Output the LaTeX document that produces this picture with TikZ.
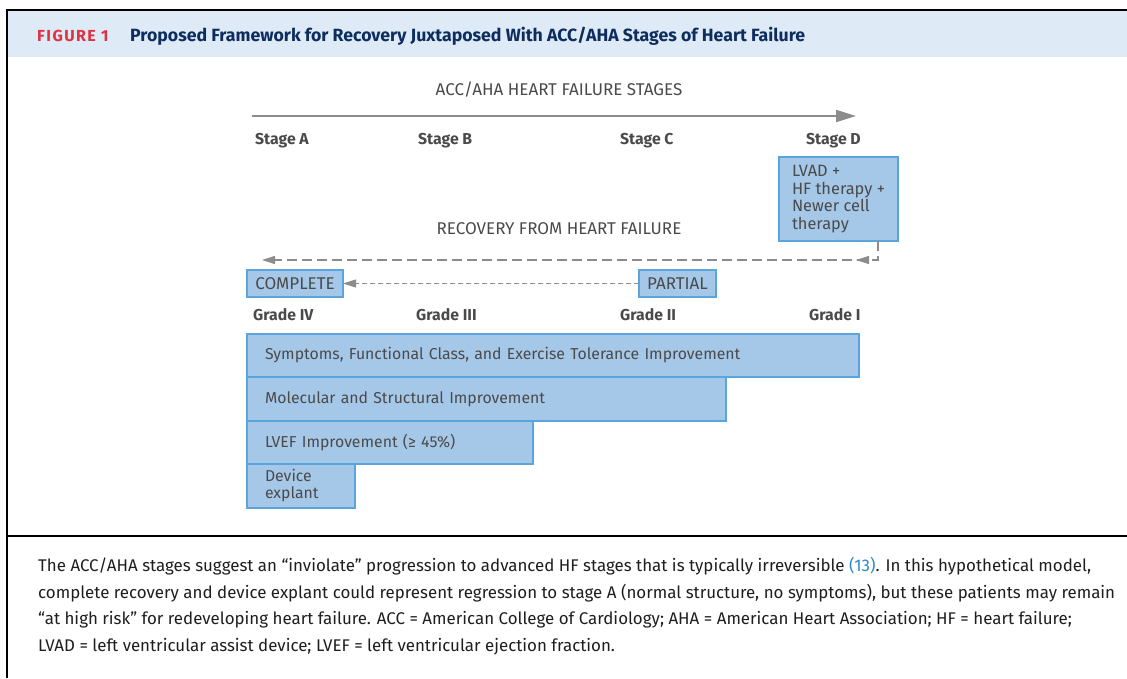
\documentclass[tikz,border=0pt]{standalone}
\usepackage{fontspec}
\setmainfont{Fira Sans}
\usetikzlibrary{arrows.meta,positioning,decorations.markings}
\definecolor{boxfill}{HTML}{A6C8E8}
\definecolor{boxline}{HTML}{5AA5DC}
\definecolor{headbg}{HTML}{DEEAF6}
\definecolor{headblue}{HTML}{0C2D5E}
\definecolor{figred}{HTML}{E0313F}
\definecolor{labelgray}{HTML}{4A4A4A}
\definecolor{arrowgray}{HTML}{8C8C8C}
\definecolor{captiontext}{HTML}{1E1E1E}
\definecolor{refblue}{HTML}{2A8BC4}
\newcommand{\labelfont}{\fontsize{15.8}{17.7}\selectfont}
\newcommand{\capsfont}{\fontsize{17}{18}\selectfont}
\newcommand{\capfont}{\fontsize{16.9}{18}\selectfont}

\begin{document}
\begin{tikzpicture}[x=1pt,y=-1pt,
  every node/.style={inner sep=0pt,text=labelgray,font=\labelfont},
  heading/.style={anchor=base,font=\capsfont},
  stagelabel/.style={anchor=base west,font=\labelfont\bfseries},
  bluebox/.style={draw=boxline,fill=boxfill,line width=1.2pt,outer sep=0pt},
  bar/.style={bluebox,anchor=north west,align=left,inner xsep=18pt},
  progress/.style={draw=arrowgray,line width=2pt,-{Triangle[length=20pt,width=12pt]}},
  recovery/.style={draw=arrowgray,line width=1.3pt,dash pattern=on 10pt off 5pt,
    -{Triangle[length=13pt,width=8pt]}},
  partialpath/.style={draw=arrowgray,line width=1pt,dash pattern=on 5pt off 3pt,
    -{Triangle[length=13pt,width=8pt]}},
  capline/.style={anchor=base west,text=captiontext,font=\capfont}]
  \useasboundingbox (0,0) rectangle (1127,678);

  % frame and header band
  \fill[headbg] (8,11) rectangle (1127,57);
  \draw[line width=2pt] (7,678) -- (7,10) -- (1127,10);
  \draw[line width=2pt] (7,536) -- (1127,536);
  \node[anchor=base west,text=figred,font=\fontsize{16}{18}\selectfont\bfseries]
    (fignum) at (37,41) {\addfontfeature{LetterSpace=9}FIGURE 1};
  \node[anchor=base west,text=headblue,font=\fontsize{17.7}{19}\selectfont\bfseries]
    (figtitle) at (130,41) {Proposed Framework for Recovery Juxtaposed With ACC/AHA Stages of Heart Failure};

  % ACC/AHA stages
  \node[heading] (stageshead) at (559,95) {ACC/AHA HEART FAILURE STAGES};
  \coordinate (stagestart) at (252,116);
  \coordinate (stageend) at (856,116);
  \draw[progress] (stagestart) -- (stageend);
  \foreach \s/\xx in {A/255,B/418,C/620,D/806}
    \node[stagelabel] (stage\s) at (\xx,144) {Stage \s};

  \node[bluebox,anchor=north west,minimum width=119pt,minimum height=84pt,
    align=left,font=\fontsize{16.4}{17.7}\selectfont]
    (lvad) at (779,157) {LVAD +\\HF therapy +\\Newer cell\\therapy};

  % recovery
  \node[heading] (recoveryhead) at (559,234) {RECOVERY FROM HEART FAILURE};
  \coordinate (recoverytip) at (262,260);
  \draw[recovery,postaction={decorate,decoration={markings,
      mark=at position 41pt with {\arrow[fill=arrowgray]{Triangle[length=13pt,width=8pt]}}}}]
    ([xshift=-20pt]lvad.south east) |- (recoverytip);

  \node[bluebox,anchor=north west,minimum width=96pt,minimum height=27pt,font=\capsfont]
    (complete) at (247,270) {COMPLETE};
  \node[bluebox,anchor=north west,minimum width=77pt,minimum height=27pt,font=\capsfont]
    (partial) at (639,270) {PARTIAL};
  \draw[partialpath] (partial) -- (complete);

  \foreach \g/\name/\xx in {4/IV/253,3/III/416,2/II/620,1/I/809}
    \node[stagelabel] (grade\g) at (\xx,320) {Grade \name};

  % improvement bars
  \node[bar,text width=576pt,minimum height=43pt] (symptoms) at (247,334)
    {Symptoms, Functional Class, and Exercise Tolerance Improvement};
  \node[bar,text width=443pt,minimum height=44pt] (structural) at (symptoms.south west)
    {Molecular and Structural Improvement};
  \node[bar,text width=250pt,minimum height=43pt] (lvef) at (structural.south west)
    {LVEF Improvement (≥ 45\%)};
  \node[bar,text width=72pt,minimum height=44pt,font=\fontsize{15.8}{17}\selectfont]
    (explant) at (lvef.south west) {Device\\explant};

  % caption
  \node[capline] (cap1) at (38,571) {The ACC/AHA stages suggest an “inviolate” progression to advanced HF stages that is typically irreversible \textcolor{refblue}{(13)}. In this hypothetical model,};
  \node[capline] (cap2) at (38,598) {complete recovery and device explant could represent regression to stage A (normal structure, no symptoms), but these patients may remain};
  \node[capline] (cap3) at (38,624) {“at high risk” for redeveloping heart failure. ACC = American College of Cardiology; AHA = American Heart Association; HF = heart failure;};
  \node[capline] (cap4) at (38,651) {LVAD = left ventricular assist device; LVEF = left ventricular ejection fraction.};
\end{tikzpicture}
\end{document}
